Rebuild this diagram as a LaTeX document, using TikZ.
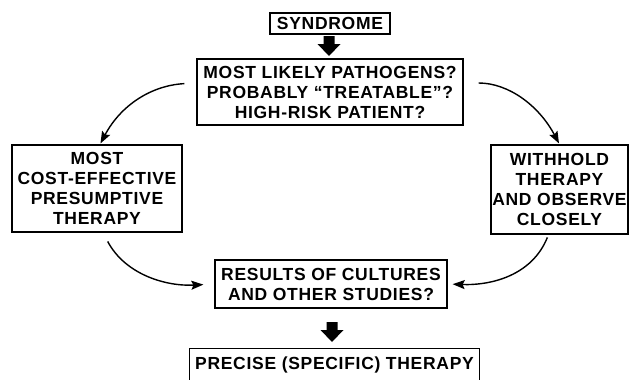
\documentclass[tikz,border=0pt]{standalone}
\usepackage{fontspec}
\setmainfont{Liberation Sans}[LetterSpace=4]
\usetikzlibrary{arrows.meta}
\tikzset{
  box/.style={draw, line width=1.3pt, inner sep=0pt, align=center, font=\bfseries\fontsize{17.5}{20}\selectfont},
  arr/.style={line width=1.4pt, -{Stealth[length=12pt,width=9pt,inset=2pt]}},
  blockarrow/.pic={\fill (-5.5,0) -- (5.5,0) -- (5.5,-8) -- (11.5,-8) -- (0,-20) -- (-11.5,-8) -- (-5.5,-8) -- cycle;}
}
\begin{document}
\begin{tikzpicture}[x=1pt,y=1pt]
\useasboundingbox[fill=white] (0,0) rectangle (632,-380);
\node[box, minimum width=120pt, minimum height=21pt] (syn) at (330,-23.5) {SYNDROME};
\node[box, minimum width=266pt, minimum height=66pt] (q) at (330,-92) {MOST LIKELY PATHOGENS?\\PROBABLY “TREATABLE”?\\HIGH-RISK PATIENT?};
\node[box, minimum width=170pt, minimum height=87pt] (left) at (97,-188.5) {MOST\\COST-EFFECTIVE\\PRESUMPTIVE\\THERAPY};
\node[box, minimum width=137pt, minimum height=89pt] (right) at (559.5,-189.5) {WITHHOLD\\THERAPY\\AND OBSERVE\\CLOSELY};
\node[box, minimum width=232pt, minimum height=48pt] (res) at (331,-284) {RESULTS OF CULTURES\\AND OTHER STUDIES?};
\node[box, draw=none, minimum width=289pt, minimum height=31pt] (prec) at (334.5,-364.5) {PRECISE (SPECIFIC) THERAPY};
\draw[line width=1.3pt] (prec.south west) -- (prec.north west) -- (prec.north east) -- (prec.south east);
\coordinate (a1) at (329,-36);
\coordinate (a2) at (332,-322);
\pic at (a1) {blockarrow};
\pic at (a2) {blockarrow};
\draw[arr, shorten <=12pt, shorten >=1pt] ([yshift=9pt]q.west) to[out=183,in=62] ([xshift=3pt]left.north);
\draw[arr, shorten <=15pt, shorten >=1pt] ([yshift=9pt]q.east) to[out=0,in=118] (right.north);
\draw[arr, shorten <=10pt, shorten >=11pt] ([xshift=6pt]left.south) to[out=-62,in=183] (res.west);
\draw[arr, shorten <=3pt, shorten >=5pt] ([xshift=-11pt]right.south) to[out=-112,in=-2] (res.east);
\end{tikzpicture}
\end{document}
